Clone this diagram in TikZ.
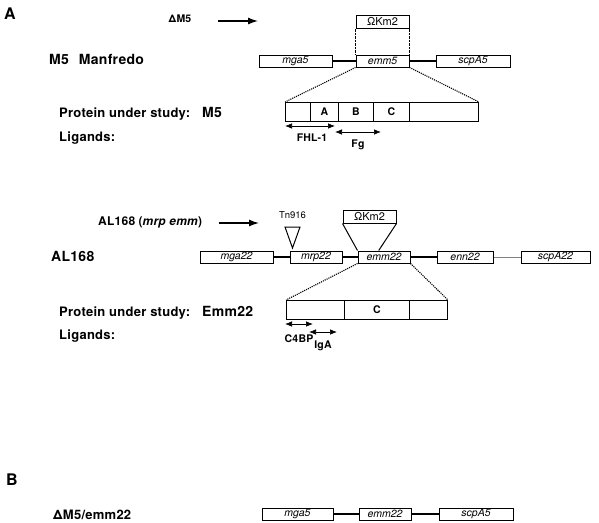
\documentclass[tikz,border=0pt]{standalone}
\usepackage{fontspec}
\setmainfont{TeX Gyre Heros}
\newfontfamily\widefont[LetterSpace=2]{TeX Gyre Heros}
\usetikzlibrary{arrows.meta,calc}

\begin{document}
\begin{tikzpicture}[x=1pt,y=-1pt,
  gene/.style={draw,line width=1pt,minimum height=12pt,inner sep=0pt,font=\fontsize{10.5}{10}\selectfont\itshape},
  seg/.style={draw,line width=1pt,minimum height=19pt,inner sep=0pt,anchor=north west,font=\fontsize{10.5}{10.5}\selectfont\bfseries},
  omega/.style={draw,line width=1pt,minimum height=13pt,minimum width=53pt,inner sep=0pt,font=\fontsize{11}{11}\selectfont},
  title/.style={anchor=base west,inner sep=0pt,font=\fontsize{14}{14}\widefont\bfseries},
  txt/.style={anchor=base west,inner sep=0pt,font=\fontsize{13}{13}\widefont\bfseries},
  lig/.style={inner sep=0pt,font=\fontsize{10.5}{10.5}\widefont\bfseries},
  link/.style={line width=1.2pt},
  bigarrow/.style={-{Latex[length=10pt,width=7pt]},line width=1.3pt},
  ligarrow/.style={{Latex[length=7pt,width=5.5pt]}-{Latex[length=7pt,width=5.5pt]},line width=0.7pt},
  dots/.style={densely dotted,line width=1.1pt}]

  \useasboundingbox (0,0) rectangle (599,522);

  % panel A: M5 Manfredo
  \node[anchor=base west,inner sep=0pt,font=\fontsize{16}{16}\selectfont\bfseries] (pA) at (4,19) {A};
  \node[lig] (dM5) at (180,19) {ΔM5};
  \coordinate (arrA1) at (218,21);
  \coordinate (arrA2) at (258,21);
  \draw[bigarrow] (arrA1) -- (arrA2);
  \node[title] (strainA) at (49,64) {M5\hspace{10pt}Manfredo};

  \node[omega] (kmA) at (382.5,21.5) {ΩKm2};
  \node[gene,minimum width=73pt] (mgaA) at (295.5,61) {mga5};
  \node[gene,minimum width=53pt] (emmA) at (382.5,61) {emm5};
  \node[gene,minimum width=74pt] (scpA) at (473,61) {scpA5};
  \draw[link] (mgaA) -- (emmA);
  \draw[link] (emmA) -- (scpA);
  \draw[densely dotted,thin] (kmA.south west) -- (emmA.north west);
  \draw[densely dotted,thin] (kmA.south east) -- (emmA.north east);

  \node[txt] (protA) at (59,117) {Protein under study:};
  \node[title] (nameA) at (202,117) {M5};
  \node[txt] (ligA) at (59,141) {Ligands:};

  \node[seg,minimum width=25pt] (pa1) at (285,102) {};
  \node[seg,minimum width=28pt] (pa2) at (310,102) {A};
  \node[seg,minimum width=35pt] (pa3) at (338,102) {B};
  \node[seg,minimum width=36pt] (pa4) at (373,102) {C};
  \node[seg,minimum width=69pt] (pa5) at (409,102) {};
  \draw[dots] (emmA.south west) -- (pa1.north west);
  \draw[dots] (emmA.south east) -- (pa5.north east);

  \coordinate (fhl1) at (285,126);
  \coordinate (fhl2) at (335,126);
  \draw[ligarrow] (fhl1) -- (fhl2);
  \node[lig] (fhl) at (312,138) {FHL-1};
  \coordinate (fg1) at (335,132);
  \coordinate (fg2) at (381,132);
  \draw[ligarrow] (fg1) -- (fg2);
  \node[lig] (fg) at (358,145) {Fg};

  % panel A: AL168
  \node[title,font=\fontsize{12}{12}\widefont\bfseries] (mutB) at (98,225) {AL168 (\textit{mrp emm})};
  \coordinate (arrB1) at (219,223);
  \coordinate (arrB2) at (259,223);
  \draw[bigarrow] (arrB1) -- (arrB2);
  \node[title] (strainB) at (51,261) {AL168};

  \node[inner sep=0pt,font=\fontsize{9.5}{9.5}\selectfont] (tn) at (292.5,215) {Tn916};
  \draw[line width=1pt] (285,227) -- (300,227) -- (292.5,248) -- cycle;

  \node[omega] (kmB) at (369.5,216.5) {ΩKm2};
  \node[gene,minimum width=73pt] (mgaB) at (236.5,257) {mga22};
  \node[gene,minimum width=52pt] (mrpB) at (316,257) {mrp22};
  \node[gene,minimum width=52pt] (emmB) at (384,257) {emm22};
  \node[gene,minimum width=56pt] (ennB) at (465,257) {enn22};
  \node[gene,minimum width=69pt] (scpB) at (555.5,257) {scpA22};
  \draw[link] (mgaB) -- (mrpB);
  \draw[link] (mrpB) -- (emmB);
  \draw[link] (emmB) -- (ennB);
  \draw[gray,thin] (ennB) -- (scpB);
  \draw[line width=1pt] (kmB.south west) -- (emmB.north west);
  \draw[line width=1pt] (kmB.south east) -- ($(emmB.north west)!0.4!(emmB.north east)$);

  \node[txt] (protB) at (59,316) {Protein under study:};
  \node[title] (nameB) at (202,316) {Emm22};
  \node[txt] (ligB) at (59,339) {Ligands:};

  \node[seg,minimum width=58pt] (pb1) at (286,300) {};
  \node[seg,minimum width=65pt] (pb2) at (344,300) {C};
  \node[seg,minimum width=38pt] (pb3) at (409,300) {};
  \draw[dots] (emmB.south west) -- (pb1.north west);
  \draw[dots] (emmB.south east) -- (pb3.north east);

  \coordinate (c4b1) at (285,324);
  \coordinate (c4b2) at (313,324);
  \draw[ligarrow] (c4b1) -- (c4b2);
  \node[lig] (c4bp) at (299,339) {C4BP};
  \coordinate (iga1) at (309,332);
  \coordinate (iga2) at (337,332);
  \draw[ligarrow] (iga1) -- (iga2);
  \node[lig] (iga) at (323,346) {IgA};

  % panel B
  \node[anchor=base west,inner sep=0pt,font=\fontsize{16}{16}\selectfont\bfseries] (pB) at (6,485) {B};
  \node[txt] (strainC) at (53,519) {ΔM5/emm22};
  \node[gene,minimum width=71pt] (mgaC) at (297.5,514) {mga5};
  \node[gene,minimum width=52pt] (emmC) at (385,514) {emm22};
  \node[gene,minimum width=74pt] (scpC) at (476,514) {scpA5};
  \draw[link] (mgaC) -- (emmC);
  \draw[link] (emmC) -- (scpC);

\end{tikzpicture}
\end{document}
